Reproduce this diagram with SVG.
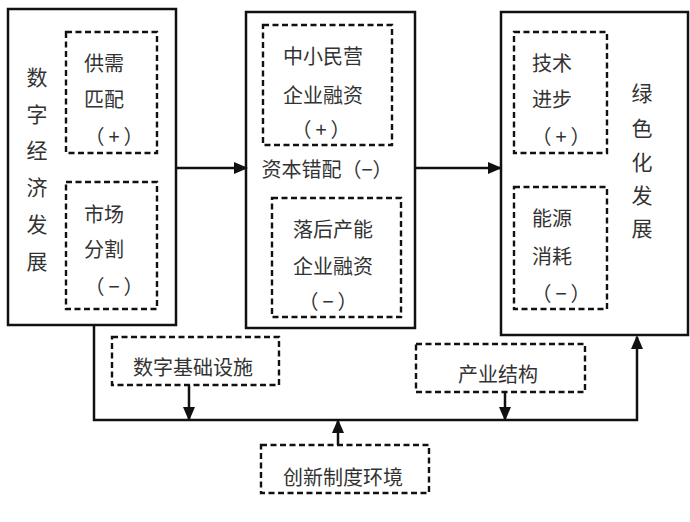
<svg xmlns="http://www.w3.org/2000/svg" width="690" height="522" viewBox="0 0 690 522">
<style>
.box{fill:none;stroke:#111;stroke-width:2.5}
.dbox{fill:none;stroke:#111;stroke-width:2.4;stroke-dasharray:6 3.5}
.line{fill:none;stroke:#111;stroke-width:2.5}
text{font-family:"Noto Sans CJK SC","Noto Sans",sans-serif;font-size:20px;fill:#333;text-anchor:middle;dominant-baseline:central}
.v{font-size:21px}
.p{letter-spacing:4px}
</style>
<defs>
<marker id="arr2" markerWidth="14" markerHeight="14" refX="12" refY="7" orient="auto" markerUnits="userSpaceOnUse" viewBox="0 0 14 14">
<path d="M0,1 L14,7 L0,13 Z" fill="#111"/>
</marker>
</defs>
<rect width="690" height="522" fill="#fff"/>
<g id="connectors">
<line class="line" x1="176" y1="168" x2="246" y2="168" marker-end="url(#arr2)"/>
<line class="line" x1="415" y1="168" x2="500" y2="168" marker-end="url(#arr2)"/>
<polyline class="line" points="94,325 94,420 637,420 637,337" marker-end="url(#arr2)"/>
<line class="line" x1="189" y1="385" x2="189" y2="419" marker-end="url(#arr2)"/>
<line class="line" x1="505" y1="392" x2="505" y2="419" marker-end="url(#arr2)"/>
<line class="line" x1="338" y1="445" x2="338" y2="421" marker-end="url(#arr2)"/>
</g>
<g id="digital-economy">
<rect class="box" x="8" y="9" width="168" height="316"/>
<text class="v" x="37" y="76">数</text>
<text class="v" x="37" y="113">字</text>
<text class="v" x="37" y="149">经</text>
<text class="v" x="37" y="186">济</text>
<text class="v" x="37" y="223">发</text>
<text class="v" x="37" y="260">展</text>
</g>
<g id="supply-demand">
<rect class="dbox" x="66" y="32" width="91" height="121"/>
<text x="104" y="62">供需</text>
<text x="104" y="98">匹配</text>
<text class="p" x="116" y="135">（+）</text>
</g>
<g id="market-segmentation">
<rect class="dbox" x="66" y="182" width="91" height="127"/>
<text x="104" y="213">市场</text>
<text x="104" y="248">分割</text>
<text class="p" x="116" y="285">（−）</text>
</g>
<g id="capital-misallocation">
<rect class="box" x="246" y="12" width="169" height="316"/>
<text x="327" y="168">资本错配（−）</text>
</g>
<g id="sme-financing">
<rect class="dbox" x="263" y="25" width="129" height="120"/>
<text x="323" y="55">中小民营</text>
<text x="323" y="94">企业融资</text>
<text class="p" x="323" y="128">（+）</text>
</g>
<g id="backward-financing">
<rect class="dbox" x="272" y="198" width="129" height="119"/>
<text x="333" y="228">落后产能</text>
<text x="333" y="265">企业融资</text>
<text class="p" x="330" y="300">（−）</text>
</g>
<g id="green-development">
<rect class="box" x="501" y="12" width="187" height="323"/>
<text class="v" x="642" y="92">绿</text>
<text class="v" x="642" y="127">色</text>
<text class="v" x="642" y="161">化</text>
<text class="v" x="642" y="194">发</text>
<text class="v" x="642" y="227">展</text>
</g>
<g id="tech-progress">
<rect class="dbox" x="514" y="32" width="93" height="121"/>
<text x="552" y="62">技术</text>
<text x="552" y="98">进步</text>
<text class="p" x="563" y="135">（+）</text>
</g>
<g id="energy-consumption">
<rect class="dbox" x="514" y="187" width="93" height="122"/>
<text x="552" y="217">能源</text>
<text x="552" y="255">消耗</text>
<text class="p" x="563" y="292">（−）</text>
</g>
<g id="digital-infrastructure">
<rect class="dbox" x="112" y="337" width="167" height="48"/>
<text x="193" y="366">数字基础设施</text>
</g>
<g id="industrial-structure">
<rect class="dbox" x="416" y="344" width="169" height="48"/>
<text x="498" y="373">产业结构</text>
</g>
<g id="innovation-institution">
<rect class="dbox" x="261" y="445" width="168" height="48"/>
<text x="343" y="476">创新制度环境</text>
</g>
</svg>
